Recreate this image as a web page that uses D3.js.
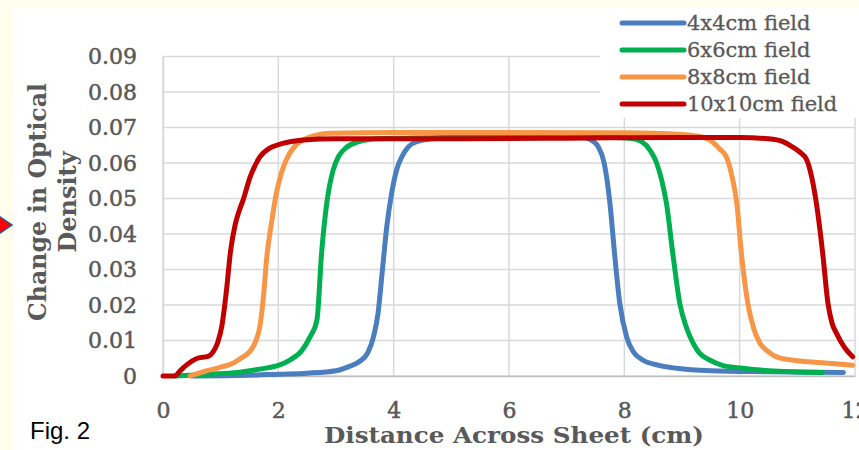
<!DOCTYPE html>
<html>
<head>
<meta charset="utf-8">
<script src="https://cdn.jsdelivr.net/npm/d3@7"></script>
<style>
  html, body { margin: 0; padding: 0; background: #fffdec; }
  svg { display: block; }
</style>
</head>
<body>
<svg id="chart" width="859" height="450"></svg>
<script>
// ---------- data ----------
const seriesNames = ["4x4cm field", "6x6cm field", "8x8cm field", "10x10cm field"];
const seriesColors = ["#4a7ebf", "#00b050", "#f79646", "#c00000"];

const xTicks = [0, 2, 4, 6, 8, 10, 12];
const yTicks = [0, 0.01, 0.02, 0.03, 0.04, 0.05, 0.06, 0.07, 0.08, 0.09];
const yTickLabels = ["0", "0.01", "0.02", "0.03", "0.04", "0.05", "0.06", "0.07", "0.08", "0.09"];

// [distance cm, change in OD]
const field4 = [[0.5,0],[1.5,0.0002],[2.0,0.0005],[2.5,0.0008],[3.0,0.0015],[3.2,0.0025],[3.4,0.004],[3.55,0.0065],[3.65,0.011],[3.73,0.0178],[3.8,0.029],[3.88,0.042],[3.96,0.051],[4.05,0.058],[4.15,0.062],[4.25,0.0645],[4.4,0.066],[4.6,0.0667],[5.0,0.0672],[5.5,0.0675],[6.0,0.068],[6.5,0.0682],[7.0,0.0678],[7.3,0.0672],[7.45,0.0662],[7.55,0.0645],[7.65,0.060],[7.75,0.0487],[7.83,0.0346],[7.92,0.0206],[8.04,0.011],[8.15,0.007],[8.32,0.0045],[8.6,0.003],[8.9,0.0022],[9.5,0.0015],[10.5,0.0012],[11.8,0.001]];

const field6 = [[0.2,0],[0.8,0.0005],[1.3,0.001],[1.7,0.002],[2.0,0.003],[2.2,0.0045],[2.4,0.007],[2.55,0.011],[2.67,0.0158],[2.75,0.0346],[2.84,0.0487],[2.95,0.058],[3.05,0.062],[3.19,0.0645],[3.4,0.066],[3.7,0.0668],[4.2,0.067],[5,0.0672],[6,0.0672],[7,0.0672],[7.8,0.0672],[8.1,0.067],[8.3,0.066],[8.45,0.0635],[8.56,0.060],[8.65,0.055],[8.73,0.0487],[8.84,0.0346],[8.96,0.0206],[9.08,0.0135],[9.19,0.0093],[9.3,0.0065],[9.48,0.0045],[9.7,0.003],[10.05,0.0022],[10.5,0.0015],[11.44,0.001]];

const field8 = [[0.47,0],[0.7,0.0012],[1.0,0.0025],[1.2,0.0035],[1.35,0.005],[1.5,0.0068],[1.6,0.0095],[1.68,0.014],[1.74,0.022],[1.8,0.0335],[1.88,0.043],[1.96,0.051],[2.05,0.057],[2.14,0.061],[2.3,0.065],[2.43,0.0665],[2.9,0.0684],[4,0.0686],[6,0.0686],[8,0.0685],[9.0,0.068],[9.3,0.0675],[9.48,0.0665],[9.65,0.064],[9.77,0.0617],[9.87,0.056],[9.95,0.0487],[10.03,0.0346],[10.14,0.0206],[10.25,0.013],[10.35,0.0093],[10.5,0.0068],[10.64,0.0054],[10.9,0.0045],[11.2,0.004],[11.6,0.0035],[11.96,0.003]];

const field10 = [[0,0],[0.2,0],[0.3,0.0015],[0.4,0.003],[0.5,0.0042],[0.6,0.005],[0.78,0.0055],[0.87,0.0068],[0.95,0.0095],[1.02,0.014],[1.1,0.024],[1.17,0.035],[1.25,0.0425],[1.32,0.0465],[1.39,0.0496],[1.51,0.056],[1.68,0.0617],[1.85,0.0642],[1.97,0.065],[2.2,0.066],[2.43,0.0665],[3,0.0668],[5,0.0668],[7,0.067],[9,0.0672],[10,0.0672],[10.5,0.0668],[10.75,0.066],[10.92,0.0645],[11.05,0.063],[11.16,0.061],[11.25,0.056],[11.33,0.0487],[11.44,0.0346],[11.53,0.0206],[11.6,0.015],[11.68,0.012],[11.8,0.0085],[11.96,0.0054]];

const seriesData = [field4, field6, field8, field10];

// ---------- drawing ----------
const svg = d3.select("#chart");
const W = 859, H = 450;
const serif = "'DejaVu Serif', serif";
const grey = "#595959";

// white panel
svg.append("rect").attr("x", 14).attr("y", 7).attr("width", W - 14).attr("height", H - 7).attr("fill", "#ffffff");

const x = d3.scaleLinear().domain([0, 12]).range([163, 855]);
const y = d3.scaleLinear().domain([0, 0.09]).range([376, 56.5]);

// gridlines
const grid = svg.append("g");
grid.selectAll("line.h").data(yTicks).join("line")
  .attr("x1", x(0)).attr("x2", x(12))
  .attr("y1", d => y(d)).attr("y2", d => y(d))
  .attr("stroke", "#d9d9d9").attr("stroke-width", 1.5);
grid.selectAll("line.v").data(xTicks).join("line")
  .attr("x1", d => x(d)).attr("x2", d => x(d))
  .attr("y1", y(0)).attr("y2", y(0.09))
  .attr("stroke", "#d9d9d9").attr("stroke-width", 1.5);

// axes
const xAxis = svg.append("g").attr("transform", `translate(0,${y(0)})`)
  .call(d3.axisBottom(x).tickValues(xTicks).tickSize(0).tickPadding(26).tickFormat(d3.format("d")));
xAxis.select(".domain").attr("stroke", "#bfbfbf").attr("stroke-width", 1.5);
xAxis.selectAll("text").attr("font-family", serif).attr("font-size", 22).attr("fill", grey)
  .attr("stroke", grey).attr("stroke-width", 0.5);

const yAxis = svg.append("g").attr("transform", `translate(${x(0)},0)`)
  .call(d3.axisLeft(y).tickValues(yTicks).tickSize(0).tickPadding(26).tickFormat((d, i) => yTickLabels[i]));
yAxis.select(".domain").attr("stroke", "#d9d9d9").attr("stroke-width", 1.5);
yAxis.selectAll("text").attr("font-family", serif).attr("font-size", 22).attr("fill", grey)
  .attr("stroke", grey).attr("stroke-width", 0.5);

// legend background (covers gridlines top right)
svg.append("rect").attr("x", 600).attr("y", 7).attr("width", W - 600).attr("height", 111).attr("fill", "#ffffff");

// lines
const line = d3.line().x(d => x(d[0])).y(d => y(d[1])).curve(d3.curveMonotoneX);
svg.append("g").selectAll("path").data(seriesData).join("path")
  .attr("d", line)
  .attr("fill", "none")
  .attr("stroke", (d, i) => seriesColors[i])
  .attr("stroke-width", 5)
  .attr("stroke-linejoin", "round")
  .attr("stroke-linecap", "round");

// legend
const leg = svg.append("g");
seriesNames.forEach((name, i) => {
  const cy = 23 + i * 27;
  leg.append("line").attr("x1", 622).attr("x2", 684).attr("y1", cy).attr("y2", cy)
    .attr("stroke", seriesColors[i]).attr("stroke-width", 5).attr("stroke-linecap", "round");
  leg.append("text").attr("x", 687).attr("y", cy + 7)
    .attr("font-family", serif).attr("font-size", 21).attr("fill", grey)
    .attr("stroke", grey).attr("stroke-width", 0.3).text(name);
});

// axis titles
svg.append("text").attr("x", (x(0) + x(12)) / 2 + 5).attr("y", 443)
  .attr("text-anchor", "middle").attr("font-family", serif).attr("font-weight", "bold")
  .attr("font-size", 23).attr("fill", grey)
  .attr("textLength", 380).attr("lengthAdjust", "spacingAndGlyphs")
  .text("Distance Across Sheet (cm)");

const yt = svg.append("text").attr("transform", "translate(46,202) rotate(-90)")
  .attr("text-anchor", "middle").attr("font-family", serif).attr("font-weight", "bold")
  .attr("font-size", 24).attr("fill", grey);
yt.append("tspan").attr("x", 0).attr("y", 0)
  .attr("textLength", 238).attr("lengthAdjust", "spacingAndGlyphs").text("Change in Optical");
yt.append("tspan").attr("x", 0).attr("y", 30).text("Density");

// caption
svg.append("text").attr("x", 30).attr("y", 439)
  .attr("font-family", "'Liberation Sans', Arial, sans-serif").attr("font-size", 24)
  .attr("fill", "#000000").text("Fig. 2");

// red arrow at left edge
svg.append("path").attr("d", "M-10,210 L12,225 L-10,240 Z")
  .attr("fill", "#ff0000").attr("stroke", "#2f5597").attr("stroke-width", 1.5);
</script>
</body>
</html>
